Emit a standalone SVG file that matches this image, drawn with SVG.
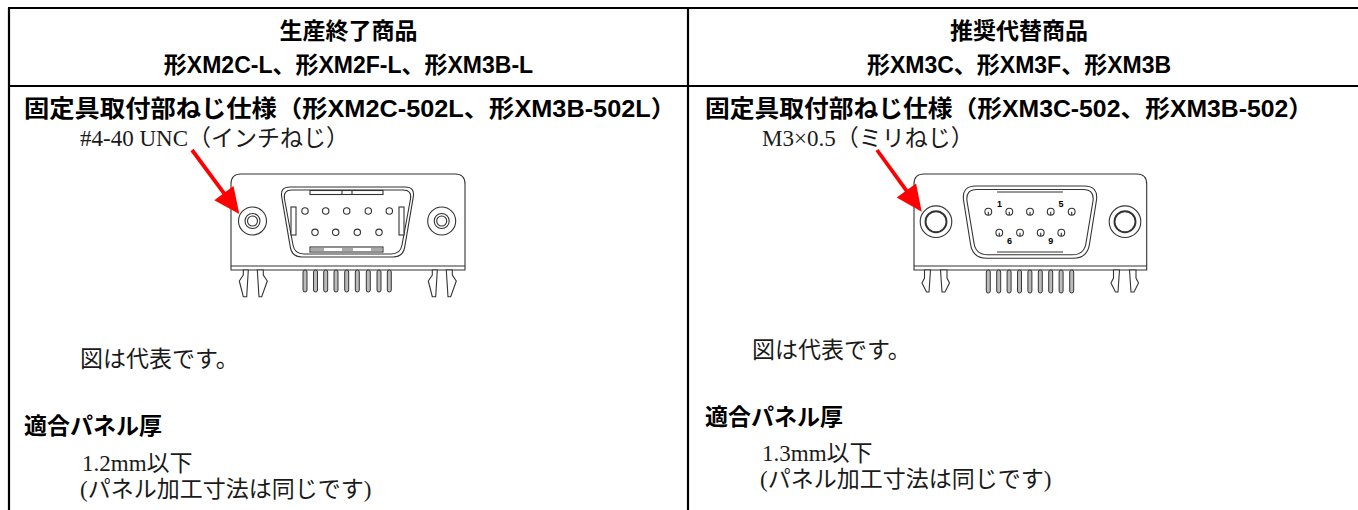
<svg xmlns="http://www.w3.org/2000/svg" width="1358" height="510" viewBox="0 0 1358 510">
<style>
.tbl{stroke:#000;stroke-width:2.2;fill:none}
.hb{font-family:"Liberation Sans","Noto Sans CJK JP",sans-serif;font-weight:bold;fill:#000}
.hh{font-size:23px;text-anchor:middle}
.hs{font-size:23.5px}
.hp{font-size:23px}
.sr{font-family:"Liberation Serif","Noto Sans CJK JP",serif;font-size:23px;fill:#1a1a1a}
.ln{fill:#fff;stroke:#333;stroke-width:1.1}
.lnn{fill:none;stroke:#333;stroke-width:1.1}
.pin{fill:#bbb;stroke:#222;stroke-width:0.9}
.red{stroke:#f00;stroke-width:3.8;fill:none}
.redh{fill:#f00}
.num{font-family:"Liberation Sans",sans-serif;font-weight:bold;font-size:9px;fill:#000;text-anchor:middle}
</style>
<rect width="1358" height="510" fill="#fff"/>
<g id="table">
<line class="tbl" x1="8" y1="8" x2="1358" y2="8"/>
<line class="tbl" x1="9" y1="8" x2="9" y2="510"/>
<line class="tbl" x1="688" y1="8" x2="688" y2="510"/>
<line class="tbl" x1="8" y1="86" x2="1358" y2="86"/>
</g>
<g id="left-header">
<text class="hb hh" x="348.5" y="39">生産終了商品</text>
<text class="hb hh" x="348.5" y="73">形XM2C-L、形XM2F-L、形XM3B-L</text>
</g>
<g id="right-header">
<text class="hb hh" x="1019" y="39">推奨代替商品</text>
<text class="hb hh" x="1019" y="73">形XM3C、形XM3F、形XM3B</text>
</g>
<g id="left-body">
<text class="hb hs" x="24" y="117" textLength="652" lengthAdjust="spacingAndGlyphs">固定具取付部ねじ仕様（形XM2C-502L、形XM3B-502L）</text>
<text class="sr" x="80" y="146">#4-40 UNC（インチねじ）</text>
<text class="sr" x="80" y="367">図は代表です。</text>
<text class="hb hp" x="24" y="434">適合パネル厚</text>
<text class="sr" x="82" y="471">1.2mm以下</text>
<text class="sr" x="80" y="497">(パネル加工寸法は同じです)</text>
</g>
<g id="right-body">
<text class="hb hs" x="705" y="117" textLength="608" lengthAdjust="spacingAndGlyphs">固定具取付部ねじ仕様（形XM3C-502、形XM3B-502）</text>
<text class="sr" x="762" y="146">M3×0.5（ミリねじ）</text>
<text class="sr" x="752" y="358">図は代表です。</text>
<text class="hb hp" x="705" y="425">適合パネル厚</text>
<text class="sr" x="762" y="461">1.3mm以下</text>
<text class="sr" x="760" y="487">(パネル加工寸法は同じです)</text>
</g>
<g id="connector-left">
<path class="ln" d="M231,270 V184 Q231,174 241,174 H455 Q465,174 465,184 V270 Z"/>
<line class="lnn" x1="231" y1="266" x2="465" y2="266"/>
<circle class="ln" cx="252.5" cy="221" r="14"/>
<circle class="lnn" cx="252.5" cy="221" r="7.5"/>
<circle class="lnn" cx="252.5" cy="221" r="5"/>
<circle class="ln" cx="441.7" cy="221" r="14"/>
<circle class="lnn" cx="441.7" cy="221" r="7.5"/>
<circle class="lnn" cx="441.7" cy="221" r="5"/>
<path class="ln" d="M290,187 H405 Q415,187 413.3,196.9 L404.7,247.1 Q403,257 393,257 H302 Q292,257 290.3,247.1 L281.7,196.9 Q280,187 290,187 Z"/>
<path class="lnn" d="M292,190 H403 Q412,190 410.5,199 L402,245 Q400.5,254 391,254 H304 Q294.5,254 293,245 L284.5,199 Q283,190 292,190 Z"/>
<rect class="ln" x="310" y="190.5" width="73" height="4"/>
<line class="lnn" x1="342" y1="190.5" x2="342" y2="194.5"/>
<line class="lnn" x1="352" y1="190.5" x2="352" y2="194.5"/>
<rect class="ln" x="310" y="247" width="73" height="5"/>
<rect x="311" y="248" width="13" height="3" fill="#aaa"/>
<rect x="342" y="248" width="11" height="3" fill="#aaa"/>
<rect x="371" y="248" width="11" height="3" fill="#aaa"/>
<rect class="ln" x="291" y="207" width="5" height="28"/>
<rect class="ln" x="399" y="207" width="5" height="28"/>
<g class="lnn">
<circle cx="305" cy="211" r="3.2"/><circle cx="325.7" cy="211" r="3.2"/><circle cx="346.7" cy="211" r="3.2"/><circle cx="368.3" cy="211" r="3.2"/><circle cx="389.3" cy="211" r="3.2"/>
<circle cx="315" cy="232.3" r="3.2"/><circle cx="335.7" cy="232.3" r="3.2"/><circle cx="357.3" cy="232.3" r="3.2"/><circle cx="379" cy="232.3" r="3.2"/>
</g>
<g class="ln">
<path d="M243.3,270 V275 L239.3,281 L243.3,296.7 H246.7 L248.3,270 Z"/>
<path d="M257.3,270 L259,296.7 H261.7 L267.3,281 L263.3,275 V270 Z"/>
<path d="M432.3,270 V275 L428.3,281 L432.3,296.7 H435.7 L437.3,270 Z"/>
<path d="M446.3,270 L448,296.7 H450.7 L456.3,281 L452.3,275 V270 Z"/>
</g>
<g class="pin">
<rect x="303" y="270" width="4" height="22" rx="2"/><rect x="313.5" y="270" width="4" height="22" rx="2"/><rect x="323.7" y="270" width="4" height="22" rx="2"/><rect x="334" y="270" width="4" height="22" rx="2"/><rect x="344.7" y="270" width="4" height="22" rx="2"/><rect x="355.3" y="270" width="4" height="22" rx="2"/><rect x="366.3" y="270" width="4" height="22" rx="2"/><rect x="377" y="270" width="4" height="22" rx="2"/><rect x="387.3" y="270" width="4" height="22" rx="2"/>
</g>
</g>
<g id="connector-right">
<path class="ln" d="M914,270 V184 Q914,174 924,174 H1136.7 Q1146.7,174 1146.7,184 V270 Z"/>
<line class="lnn" x1="914" y1="266" x2="1146.7" y2="266"/>
<circle class="ln" cx="936" cy="221.7" r="15.8"/>
<circle cx="936" cy="221.7" r="10.5" fill="none" stroke="#333" stroke-width="1.9"/>
<circle class="ln" cx="1125" cy="221.7" r="15.8"/>
<circle cx="1125" cy="221.7" r="10.5" fill="none" stroke="#333" stroke-width="1.9"/>
<path class="ln" d="M976,186 H1084 Q1098.3,186 1096.5,200 L1089.5,244 Q1087.5,258.3 1073,258.3 H987 Q972.5,258.3 970.5,244 L963.5,200 Q961.7,186 976,186 Z"/>
<path class="lnn" d="M977,189.5 H1083 Q1094.5,189.5 1093,201 L1086,243 Q1084.3,254.8 1072,254.8 H988 Q975.7,254.8 974,243 L967,201 Q965.5,189.5 977,189.5 Z"/>
<line class="lnn" x1="997" y1="192" x2="1063" y2="192"/>
<line class="lnn" x1="997" y1="252" x2="1063" y2="252"/>
<g class="lnn">
<circle cx="988.3" cy="211.7" r="3.4"/><circle cx="1009.3" cy="211.7" r="3.4"/><circle cx="1030" cy="211.7" r="3.4"/><circle cx="1050.7" cy="211.7" r="3.4"/><circle cx="1071.7" cy="211.7" r="3.4"/>
<circle cx="999.3" cy="232.7" r="3.4"/><circle cx="1020" cy="232.7" r="3.4"/><circle cx="1040.7" cy="232.7" r="3.4"/><circle cx="1061.3" cy="232.7" r="3.4"/>
<path d="M988.3,211.7 v3.4 M1009.3,211.7 v3.4 M1030,211.7 v3.4 M1050.7,211.7 v3.4 M1071.7,211.7 v3.4 M999.3,232.7 v3.4 M1020,232.7 v3.4 M1040.7,232.7 v3.4 M1061.3,232.7 v3.4"/>
</g>
<text class="num" x="999.5" y="207">1</text>
<text class="num" x="1061" y="207">5</text>
<text class="num" x="1009.5" y="243.5">6</text>
<text class="num" x="1050.7" y="243.5">9</text>
<g class="ln">
<path d="M924.5,270 V278 L922,283 L926.5,292 H929 L930.5,270 Z"/>
<path d="M940.5,270 L942,292 H945 L949.5,283 L947,278 V270 Z"/>
<path d="M1113.5,270 V278 L1111,283 L1115.5,292 H1118 L1119.5,270 Z"/>
<path d="M1129.5,270 L1131,292 H1134 L1138.5,283 L1136,278 V270 Z"/>
</g>
<g class="pin">
<rect x="986.3" y="270" width="4" height="23" rx="2"/><rect x="996.7" y="270" width="4" height="23" rx="2"/><rect x="1007.1" y="270" width="4" height="23" rx="2"/><rect x="1017.5" y="270" width="4" height="23" rx="2"/><rect x="1027.9" y="270" width="4" height="23" rx="2"/><rect x="1038.3" y="270" width="4" height="23" rx="2"/><rect x="1048.7" y="270" width="4" height="23" rx="2"/><rect x="1059.1" y="270" width="4" height="23" rx="2"/><rect x="1069.7" y="270" width="4" height="23" rx="2"/>
</g>
</g>
<g id="connectors">
<line class="red" x1="192" y1="150" x2="226.3" y2="196.3"/>
<polygon class="redh" points="239.3,214 214.3,200.2 233.5,186"/>
<line class="red" x1="877" y1="150" x2="908.8" y2="193.8"/>
<polygon class="redh" points="921.7,211.7 896.7,197.6 916.1,183.6"/>
</g>
</svg>
